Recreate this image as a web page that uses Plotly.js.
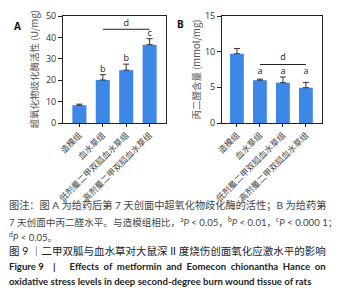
<!DOCTYPE html>
<html><head><meta charset="utf-8">
<script src="https://cdn.plot.ly/plotly-3.0.1.min.js"></script>
<style>html,body{margin:0;padding:0;background:#fff}#c{width:347px;height:302px}</style>
</head><body><div id="c"></div>
<script>
const categories = ["造模组", "血水草组", "低剂量二甲双胍血水草组", "高剂量二甲双胍血水草组"];
const sodValues = [8.3, 20.1, 24.7, 36.6];
const sodErrors = [0.5, 2.5, 2.8, 2.8];
const sodMarks = ["", "b", "b", "c"];
const sodBracket = [1, 3];
const sodBracketY = 43.8;
const mdaValues = [9.7, 6.0, 5.65, 4.95];
const mdaErrors = [0.75, 0.15, 0.8, 0.75];
const mdaMarks = ["", "a", "a", "a"];
const mdaMarkY = 7.2;
const mdaBracket = [1, 3];
const mdaBracketY = 8.2;
const bracketLabel = "d";
const yTicksA = [0, 10, 20, 30, 40, 50];
const yTicksB = [0, 5, 10, 15];
const yTitleA = "超氧化物歧化酶活性 (U/mg)";
const yTitleB = "丙二醛含量 (mmol/mg)";

const BLUE = "#3d87e6";
const CJK = '"Noto Sans CJK SC", "Open Sans", sans-serif';
const CAP = 'Lato, "Noto Sans CJK SC", sans-serif';
const idx = categories.map((_, i) => i);

function barTrace(vals, errs, xa, ya) {
  return {type: "bar", x: idx, y: vals, xaxis: xa, yaxis: ya, width: 0.6,
    marker: {color: BLUE, line: {width: 0}},
    error_y: {type: "data", array: errs, arrayminus: errs.map(() => 0), symmetric: false,
      color: "#333", thickness: 1, width: 3},
    hoverinfo: "skip", showlegend: false};
}
function markTrace(ys, marks, xa, ya) {
  return {type: "scatter", mode: "text", x: idx, y: ys,
    text: marks, textposition: "middle center", xaxis: xa, yaxis: ya,
    textfont: {family: "Open Sans, sans-serif", size: 9, color: "#222"},
    hoverinfo: "skip", showlegend: false, cliponaxis: false};
}
function bracketTraces(br, by, off, xa, ya) {
  return [
    {type: "scatter", mode: "lines", x: br, y: [by, by], xaxis: xa, yaxis: ya,
      line: {color: "#222", width: 1}, hoverinfo: "skip", showlegend: false},
    {type: "scatter", mode: "text", x: [(br[0] + br[1]) / 2], y: [by + off], text: [bracketLabel],
      xaxis: xa, yaxis: ya, textfont: {family: "Open Sans, sans-serif", size: 9, color: "#222"},
      hoverinfo: "skip", showlegend: false, cliponaxis: false}
  ];
}

const traces = [
  barTrace(sodValues, sodErrors, "x", "y"),
  markTrace(sodValues.map((v, i) => v + sodErrors[i] + 2.5), sodMarks, "x", "y"),
  ...bracketTraces(sodBracket, sodBracketY, 2.6, "x", "y"),
  barTrace(mdaValues, mdaErrors, "x2", "y2"),
  markTrace(mdaValues.map(() => mdaMarkY), mdaMarks, "x2", "y2"),
  ...bracketTraces(mdaBracket, mdaBracketY, 1.0, "x2", "y2")
];

const W = 347, H = 302;
const px = x => x / W, py = y => 1 - y / H;

function xAxis(dom, range, anchor) {
  return {domain: dom, range: range, anchor: anchor, tickmode: "array", tickvals: idx, ticktext: categories,
    tickangle: -45, ticks: "outside", ticklen: 3, tickcolor: "#222", showline: true, mirror: true,
    linecolor: "#222", linewidth: 1, showgrid: false, zeroline: false, fixedrange: true,
    tickfont: {family: CJK, size: 8.5, color: "#444"}};
}
function yAxis(dom, range, ticks, anchor) {
  return {domain: dom, range: range, anchor: anchor, tickmode: "array", tickvals: ticks,
    ticks: "outside", ticklen: 4, tickcolor: "#222", showline: true, mirror: true,
    linecolor: "#222", linewidth: 1, showgrid: false, zeroline: false, fixedrange: true,
    tickfont: {family: "Open Sans, sans-serif", size: 9, color: "#333"}};
}

const capFont = {family: CAP, size: 10.2, color: "#444"};
function cap(text, y, font) {
  return {text: text, x: px(7), y: py(y), xref: "paper", yref: "paper", xanchor: "left",
    yanchor: "middle", showarrow: false, font: font || capFont};
}
function ytitle(text, x) {
  return {text: text, x: px(x), y: py(69.5), xref: "paper", yref: "paper", textangle: -90,
    showarrow: false, xanchor: "center", yanchor: "middle",
    font: {family: CJK, size: 9.5, color: "#555"}};
}
const enFont = {family: "Lato, sans-serif", size: 9.6, color: "#222"};
const sp = "&nbsp;";
const line1Words = ["Effects", "of", "metformin", "and", "Eomecon", "chionantha", "Hance", "on"];
const layout = {
  width: W, height: H, margin: {l: 0, r: 0, t: 0, b: 0},
  paper_bgcolor: "#fff", plot_bgcolor: "#fff", bargap: 0.4,
  xaxis: xAxis([px(63), px(166)], [-0.7, 3.7], "y"),
  yaxis: yAxis([py(123), py(16)], [0, 50], yTicksA, "x"),
  xaxis2: xAxis([px(222), px(322)], [-0.65, 3.7], "y2"),
  yaxis2: yAxis([py(123), py(16)], [0, 15], yTicksB, "x2"),
  annotations: [
    ytitle(yTitleA, 33),
    ytitle(yTitleB, 195),
    {text: "<b>A</b>", x: px(12), y: py(17), xref: "paper", yref: "paper", showarrow: false,
      font: {family: "Open Sans, sans-serif", size: 10, color: "#111"}},
    {text: "<b>B</b>", x: px(180), y: py(15), xref: "paper", yref: "paper", showarrow: false,
      font: {family: "Open Sans, sans-serif", size: 10, color: "#111"}},
    cap("图注：图 A 为给药后第 7 天创面中超氧化物歧化酶的活性；B 为给药第", 205),
    cap("7 天创面中丙二醛水平。与造模组相比，<sup>a</sup><i>P</i> < 0.05，<sup>b</sup><i>P</i> < 0.01，<sup>c</sup><i>P</i> < 0.000 1；", 221,
      {family: CAP, size: 9.6, color: "#444"}),
    cap("<sup>d</sup><i>P</i> < 0.05。", 236, {family: CAP, size: 9.6, color: "#444"}),
    cap("图 9 ｜二甲双胍与血水草对大鼠深 II 度烧伤创面氧化应激水平的影响", 251,
      {family: CAP, size: 10.5, color: "#222"}),
    cap("<b>Figure 9" + sp.repeat(4) + "|" + sp.repeat(6) + line1Words.join(sp + sp) + "</b>", 266, enFont),
    cap("<b>oxidative stress levels in deep second-degree burn wound tissue of rats</b>", 281, enFont)
  ]
};
Plotly.newPlot("c", traces, layout, {displayModeBar: false, staticPlot: true});
</script></body></html>
